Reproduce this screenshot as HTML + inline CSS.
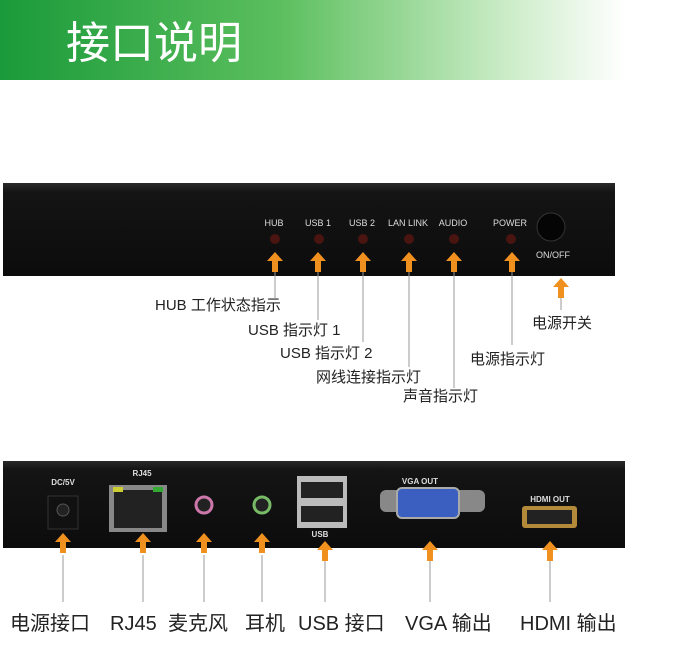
<!DOCTYPE html>
<html><head><meta charset="utf-8"><style>
body{margin:0;width:678px;height:648px;overflow:hidden;background:#fff}
svg{display:block}
text{font-family:"Liberation Sans","Noto Sans CJK SC",sans-serif}
</style></head><body>
<svg width="678" height="648" viewBox="0 0 678 648">
<defs>
<linearGradient id="g" x1="0" x2="1" y1="0" y2="0">
<stop offset="0" stop-color="#1a9a3a"/><stop offset="0.45" stop-color="#5cbf5e"/><stop offset="0.8" stop-color="#c8ebc4"/><stop offset="1" stop-color="#fff"/></linearGradient>
<linearGradient id="p" x1="0" x2="0" y1="0" y2="1"><stop offset="0" stop-color="#2a2a2a"/><stop offset="0.1" stop-color="#141414"/><stop offset="1" stop-color="#0c0c0c"/></linearGradient>
<g id="ar"><path d="M0,0 L-8,9 L-3,9 L-3,20 L3,20 L3,9 L8,9 Z" fill="#f0901e"/></g>
</defs>
<rect x="0" y="0" width="625" height="80" fill="url(#g)"/>
<text x="66" y="58" font-size="44" fill="#fff">接口说明</text>

<rect x="3" y="183" width="612" height="93" fill="url(#p)"/>
<g font-size="9" fill="#ddd" text-anchor="middle">
<text x="274" y="226">HUB</text><text x="318" y="226">USB 1</text><text x="362" y="226">USB 2</text>
<text x="408" y="226">LAN LINK</text><text x="453" y="226">AUDIO</text><text x="510" y="226">POWER</text>
<text x="553" y="258">ON/OFF</text></g>
<g fill="#4a1410"><circle cx="275" cy="239" r="5"/><circle cx="319" cy="239" r="5"/><circle cx="363" cy="239" r="5"/><circle cx="409" cy="239" r="5"/><circle cx="454" cy="239" r="5"/><circle cx="511" cy="239" r="5"/></g>
<circle cx="551" cy="227" r="14" fill="#050505" stroke="#333"/>
<g stroke="#999" stroke-width="1">
<line x1="275" y1="270" x2="275" y2="298"/><line x1="318" y1="270" x2="318" y2="320"/>
<line x1="363" y1="270" x2="363" y2="342"/><line x1="409" y1="270" x2="409" y2="367"/>
<line x1="454" y1="270" x2="454" y2="388"/><line x1="512" y1="270" x2="512" y2="345"/>
<line x1="561" y1="295" x2="561" y2="310"/></g>
<use href="#ar" x="275" y="252"/><use href="#ar" x="318" y="252"/><use href="#ar" x="363" y="252"/>
<use href="#ar" x="409" y="252"/><use href="#ar" x="454" y="252"/><use href="#ar" x="512" y="252"/>
<use href="#ar" x="561" y="278"/>
<g font-size="15" fill="#222">
<text x="155" y="310">HUB 工作状态指示</text>
<text x="248" y="335">USB 指示灯 1</text>
<text x="280" y="358">USB 指示灯 2</text>
<text x="316" y="382">网线连接指示灯</text>
<text x="403" y="401">声音指示灯</text>
<text x="470" y="364">电源指示灯</text>
<text x="532" y="328">电源开关</text></g>

<rect x="3" y="461" width="622" height="87" fill="url(#p)"/>
<g font-size="8" fill="#ddd" text-anchor="middle" font-weight="bold">
<text x="63" y="485">DC/5V</text><text x="142" y="476">RJ45</text><text x="420" y="484">VGA OUT</text>
<text x="550" y="502">HDMI OUT</text><text x="320" y="537">USB</text></g>
<rect x="48" y="496" width="30" height="33" fill="#111" stroke="#333"/><circle cx="63" cy="510" r="6" fill="#222" stroke="#555"/>
<rect x="109" y="485" width="58" height="47" fill="#888"/><rect x="114" y="490" width="48" height="38" fill="#222"/>
<rect x="113" y="487" width="10" height="5" fill="#cc3"/><rect x="153" y="487" width="10" height="5" fill="#3a3"/>
<circle cx="204" cy="505" r="8" fill="#222" stroke="#c7a" stroke-width="3"/>
<circle cx="262" cy="505" r="8" fill="#222" stroke="#7b6" stroke-width="3"/>
<rect x="297" y="476" width="50" height="52" fill="#bbb"/><rect x="301" y="482" width="42" height="16" fill="#222"/><rect x="301" y="506" width="42" height="16" fill="#222"/>
<rect x="380" y="490" width="105" height="22" rx="6" fill="#888"/><rect x="397" y="488" width="62" height="30" rx="5" fill="#3a5fc0" stroke="#aaa" stroke-width="2"/>
<rect x="522" y="506" width="55" height="22" rx="3" fill="#b28a3a"/><rect x="527" y="510" width="45" height="14" fill="#222"/>
<g stroke="#999" stroke-width="1">
<line x1="63" y1="555" x2="63" y2="602"/><line x1="143" y1="555" x2="143" y2="602"/><line x1="204" y1="555" x2="204" y2="602"/>
<line x1="262" y1="555" x2="262" y2="602"/><line x1="325" y1="560" x2="325" y2="602"/><line x1="430" y1="560" x2="430" y2="602"/><line x1="550" y1="560" x2="550" y2="602"/></g>
<use href="#ar" x="63" y="533"/><use href="#ar" x="143" y="533"/><use href="#ar" x="204" y="533"/><use href="#ar" x="262" y="533"/>
<use href="#ar" x="325" y="541"/><use href="#ar" x="430" y="541"/><use href="#ar" x="550" y="541"/>
<g font-size="20" fill="#222">
<text x="10" y="630">电源接口</text><text x="110" y="630">RJ45</text><text x="168" y="630">麦克风</text>
<text x="245" y="630">耳机</text><text x="298" y="630">USB 接口</text><text x="405" y="630">VGA 输出</text><text x="520" y="630">HDMI 输出</text></g>
</svg>
</body></html>
